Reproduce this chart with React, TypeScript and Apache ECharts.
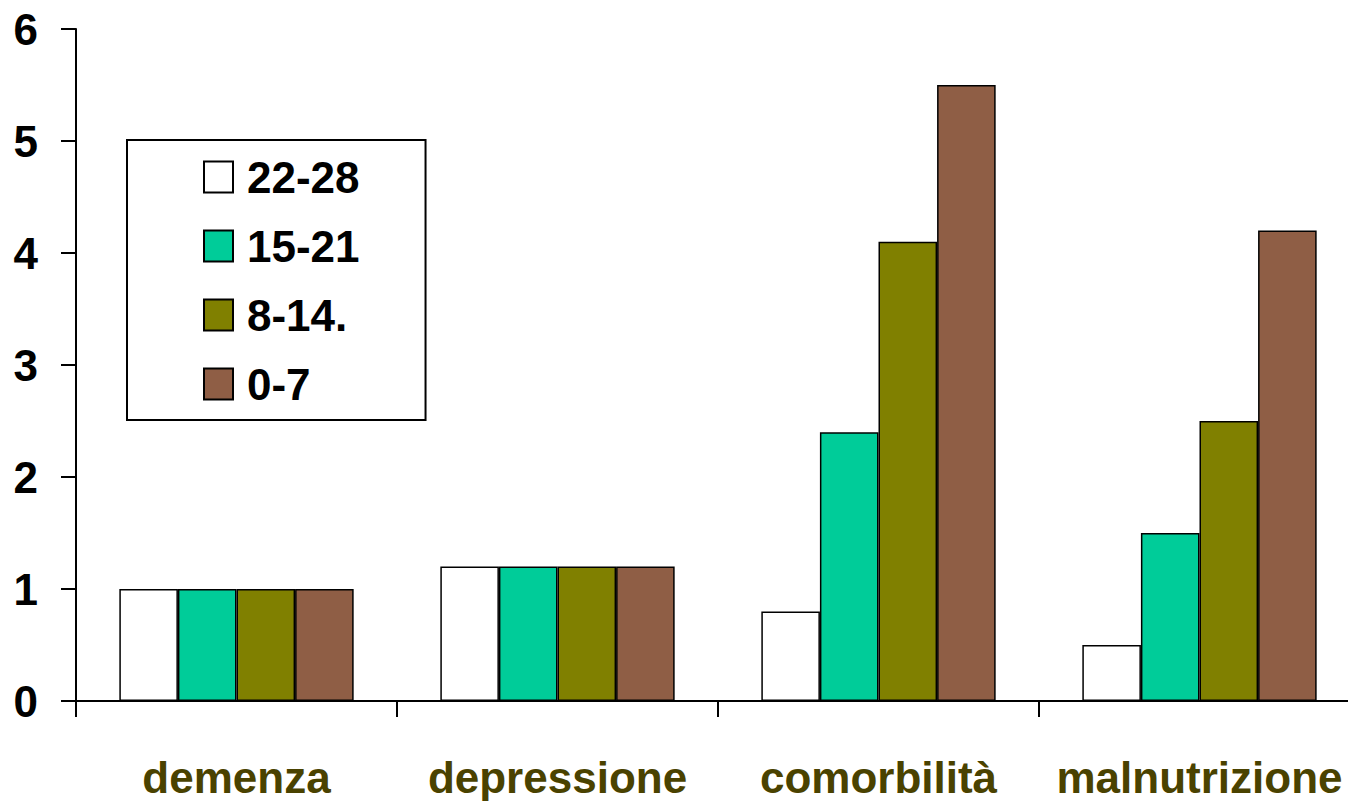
import React, { useEffect, useRef } from "react";
import * as echarts from "echarts";

const categories = ["demenza", "depressione", "comorbilità", "malnutrizione"];
const seriesNames = ["22-28", "15-21", "8-14.", "0-7"];
const values2228 = [1.0, 1.2, 0.8, 0.5];
const values1521 = [1.0, 1.2, 2.4, 1.5];
const values814 = [1.0, 1.2, 4.1, 2.5];
const values07 = [1.0, 1.2, 5.5, 4.2];
const seriesColors = ["#FFFFFF", "#00CC99", "#808000", "#8F5E45"];
const yTicks = { min: 0, max: 6, interval: 1 };

const FONT = "'Liberation Sans', Arial, sans-serif";

export default function App() {
  const ref = useRef<HTMLDivElement>(null);
  useEffect(() => {
    if (!ref.current) return;
    const chart = echarts.init(ref.current, null, { renderer: "svg" });
    const allValues = [values2228, values1521, values814, values07];
    chart.setOption({
      animation: false,
      backgroundColor: "#FFFFFF",
      textStyle: { fontFamily: FONT },
      grid: { left: 76, top: 29, width: 1284, height: 672, containLabel: false },
      legend: {
        orient: "vertical",
        left: 127,
        top: 140,
        data: seriesNames,
        icon: "rect",
        itemWidth: 29,
        itemHeight: 31,
        itemGap: 25,
        padding: [15, 66, 14, 76],
        borderColor: "#000000",
        borderWidth: 2,
        backgroundColor: "#FFFFFF",
        textStyle: {
          fontFamily: FONT,
          fontSize: 44,
          fontWeight: "bold",
          color: "#000000",
          lineHeight: 44,
          padding: [0, 0, 0, 9],
        },
      },
      xAxis: {
        type: "category",
        data: categories,
        axisLine: { lineStyle: { color: "#000000", width: 2 } },
        axisTick: { show: true, length: 16, lineStyle: { color: "#000000", width: 2 } },
        axisLabel: {
          interval: 0,
          margin: 54,
          fontFamily: FONT,
          fontSize: 44,
          fontWeight: "bold",
          color: "#4A4200",
        },
        splitLine: { show: false },
      },
      yAxis: {
        type: "value",
        min: yTicks.min,
        max: yTicks.max,
        interval: yTicks.interval,
        axisLine: { show: true, lineStyle: { color: "#000000", width: 2 } },
        axisTick: { show: true, length: 15, lineStyle: { color: "#000000", width: 2 } },
        axisLabel: {
          margin: 38,
          fontFamily: FONT,
          fontSize: 44,
          fontWeight: "bold",
          color: "#000000",
        },
        splitLine: { show: false },
      },
      series: seriesNames.map((name, i) => ({
        name,
        type: "bar",
        data: allValues[i],
        barGap: "0%",
        barCategoryGap: "27%",
        itemStyle: { color: seriesColors[i], borderColor: "#000000", borderWidth: 1.5 },
      })),
    });
    return () => chart.dispose();
  }, []);
  return (
    <div
      style={{
        position: "fixed",
        left: 0,
        top: 0,
        width: 1348,
        height: 801,
        overflow: "hidden",
        background: "#FFFFFF",
      }}
    >
      <div ref={ref} style={{ width: 1380, height: 801 }} />
    </div>
  );
}
